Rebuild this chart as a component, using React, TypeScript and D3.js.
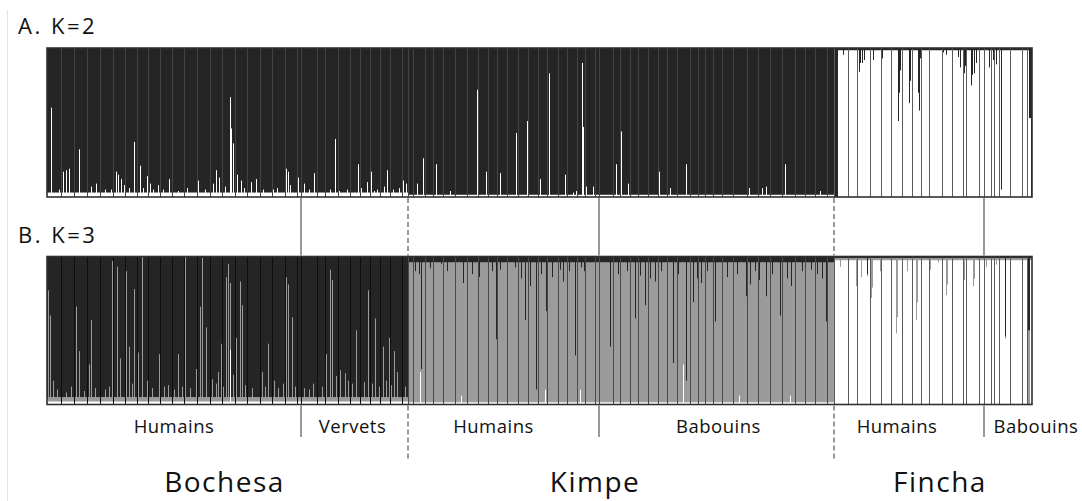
import React from "react";
import * as d3 from "d3";

// ---------- data ----------
const sites = ["Bochesa", "Kimpe", "Fincha"];
const groupLabels = ["Humains", "Vervets", "Humains", "Babouins", "Humains", "Babouins"];
const groupSizes = [254, 107, 191, 235, 150, 48];
const groupSite = [0, 0, 1, 1, 2, 2];
const panelTitles = ["A. K=2", "B. K=3"];

// sampling-site separators (individual index where a new sample block starts)
const separators = [
  14, 27, 40, 53, 66, 78, 90, 101, 113, 125, 137, 150, 163, 175, 188, 200, 213, 225, 238, 250, 254,
  270, 278, 291, 303, 313, 323, 333, 343, 355, 361,
  366, 378, 386, 396, 408, 420, 431, 441, 450, 460, 471, 481, 491, 500, 511, 520, 530, 538, 548, 552,
  566, 573, 583, 591, 601, 611, 620, 630, 643, 651, 658, 666, 675, 686, 700, 711, 723, 735, 748, 758, 768, 780, 787,
  801, 810, 823, 834, 844, 855, 865, 874, 882, 895, 905, 916, 919, 932, 937,
  944, 947, 952, 963, 975, 980,
];

// K=2 : components [light, dark]
const k2Base = [
  [0.03, 0.97], [0.03, 0.97], [0.015, 0.985], [0.015, 0.985], [0.985, 0.015], [0.985, 0.015],
];
const k2Major = [1, 1, 1, 1, 0, 0];
const k2LightSpikes: [number, number][] = [
  [4, 0.6], [12, 0.05], [16, 0.17], [19, 0.18], [22, 0.19], [27, 0.04], [32, 0.32], [44, 0.07], [49, 0.09],
  [58, 0.05], [64, 0.05], [69, 0.17], [71, 0.15], [74, 0.12], [77, 0.08], [82, 0.06], [87, 0.37], [93, 0.21],
  [96, 0.06], [100, 0.14], [103, 0.09], [106, 0.05], [111, 0.08], [116, 0.05], [122, 0.12], [131, 0.04],
  [140, 0.06], [151, 0.11], [158, 0.05], [166, 0.09], [169, 0.18], [172, 0.13], [175, 0.2], [178, 0.07],
  [183, 0.67], [184, 0.46], [186, 0.36], [190, 0.15], [194, 0.11], [197, 0.06], [204, 0.1], [209, 0.12],
  [216, 0.05], [226, 0.05], [230, 0.06], [239, 0.19], [241, 0.17], [243, 0.08], [251, 0.13], [257, 0.09],
  [262, 0.05], [267, 0.16], [283, 0.05], [288, 0.39], [292, 0.04], [300, 0.05], [311, 0.22], [314, 0.06],
  [320, 0.1], [324, 0.17], [327, 0.04], [330, 0.05], [337, 0.07], [340, 0.18], [343, 0.04], [346, 0.05],
  [352, 0.06], [356, 0.11], [359, 0.09], [370, 0.09], [376, 0.26], [389, 0.22], [403, 0.04], [430, 0.72],
  [439, 0.17], [453, 0.16], [469, 0.43], [480, 0.51], [493, 0.12], [502, 0.83], [518, 0.15], [526, 0.03],
  [529, 0.04], [535, 0.9], [536, 0.47], [539, 0.07], [546, 0.07], [552, 0.04], [569, 0.22], [574, 0.44],
  [581, 0.09], [612, 0.17], [623, 0.06], [639, 0.22], [702, 0.06], [715, 0.06], [719, 0.07], [738, 0.22],
  [773, 0.04],
];
const k2DarkSpikes: [number, number][] = [
  [787, 1], [788, 1], [789, 1], [790, 1], [796, 0.045], [812, 0.16], [813, 0.1], [815, 0.1], [817, 0.08],
  [826, 0.08], [835, 0.07], [851, 0.49], [852, 0.3], [853, 0.15], [862, 0.37], [863, 0.22], [871, 0.3],
  [872, 0.42], [873, 0.07], [896, 0.03], [899, 0.045], [911, 0.06], [913, 0.13], [917, 0.17], [918, 0.12],
  [924, 0.25], [925, 0.18], [927, 0.17], [929, 0.1], [942, 0.13], [946, 0.08], [949, 0.11], [954, 0.95],
  [982, 0.47], [983, 0.47], [984, 1],
];

// K=3 : components [light, grey, dark]
const k3Base = [
  [0.02, 0.03, 0.95], [0.02, 0.03, 0.95], [0.015, 0.945, 0.04], [0.015, 0.945, 0.04],
  [0.975, 0.015, 0.01], [0.975, 0.015, 0.01],
];
const k3Major = [2, 2, 1, 1, 0, 0];
const k3GreySpikes: [number, number][] = [
  [1, 0.75], [3, 0.58], [6, 0.14], [10, 0.08], [14, 0.15], [19, 0.06], [24, 0.1], [29, 0.64], [32, 0.34],
  [37, 0.07], [42, 0.25], [44, 0.55], [48, 0.09], [53, 0.12], [58, 0.08], [62, 0.1], [65, 0.95], [70, 0.91],
  [73, 0.29], [79, 0.88], [82, 0.37], [85, 0.12], [87, 0.76], [91, 0.33], [95, 0.98], [100, 0.14],
  [105, 0.09], [112, 0.32], [117, 0.1], [121, 0.11], [127, 0.08], [131, 0.32], [135, 0.1], [138, 0.99],
  [143, 0.09], [149, 0.22], [153, 0.64], [155, 0.97], [159, 0.5], [163, 0.94], [165, 0.15], [169, 0.12],
  [171, 0.2], [174, 0.39], [176, 0.1], [179, 0.84], [181, 0.93], [183, 0.45], [186, 0.18], [189, 0.43],
  [193, 0.81], [195, 0.65], [198, 0.11], [200, 0.14], [205, 0.09], [213, 0.74], [215, 0.2], [218, 0.1],
  [221, 0.39], [227, 0.14], [231, 0.09], [236, 0.12], [239, 0.84], [241, 0.79], [245, 0.57], [248, 0.1],
  [250, 0.15], [257, 0.09], [262, 0.08], [266, 0.12], [270, 0.11], [275, 0.1], [279, 0.32], [283, 0.89],
  [285, 0.82], [289, 0.17], [293, 0.21], [298, 0.19], [301, 0.14], [305, 0.12], [309, 0.48], [313, 0.16],
  [317, 0.13], [321, 0.75], [325, 0.12], [328, 0.56], [332, 0.1], [336, 0.37], [339, 0.14], [342, 0.43],
  [344, 0.11], [347, 0.34], [350, 0.2], [355, 0.09], [358, 0.1],
  [793, 0.06], [809, 0.19], [810, 0.12], [814, 0.13], [824, 0.27], [825, 0.2], [833, 0.09], [849, 0.51],
  [850, 0.4], [860, 0.09], [869, 0.42], [870, 0.3], [883, 0.08], [891, 0.03], [899, 0.25], [900, 0.18],
  [916, 0.2], [917, 0.15], [919, 0.16], [926, 0.19], [927, 0.14], [939, 0.06], [944, 0.09], [949, 0.045],
  [981, 0.5], [982, 0.5],
];
const k3LightSpikes: [number, number][] = [
  [183, 0.37], [373, 0.22], [386, 0.05], [414, 0.06], [498, 0.1], [533, 0.1], [566, 0.35], [636, 0.27],
  [692, 0.06], [743, 0.06], [758, 0.07],
];
const k3DarkSpikes: [number, number][] = [
  [368, 0.1], [372, 0.12], [374, 0.76], [378, 0.75], [383, 0.08], [386, 0.09], [394, 0.05], [400, 0.1],
  [408, 0.07], [416, 0.18], [425, 0.12], [432, 0.14], [441, 0.06], [445, 0.1], [449, 0.56], [453, 0.09],
  [460, 0.12], [468, 0.075], [474, 0.15], [478, 0.43], [483, 0.2], [489, 0.9], [494, 0.12], [499, 0.37],
  [505, 0.14], [513, 0.09], [516, 0.17], [522, 0.1], [528, 0.67], [534, 0.075], [537, 0.1], [543, 0.04],
  [548, 0.08], [563, 0.61], [566, 0.09], [571, 0.12], [580, 0.1], [588, 0.42], [593, 0.13], [598, 0.33],
  [603, 0.15], [608, 0.17], [614, 0.1], [619, 0.04], [626, 0.72], [631, 0.12], [639, 0.84], [646, 0.31],
  [650, 0.15], [654, 0.18], [660, 0.1], [668, 0.44], [675, 0.1], [680, 0.14], [690, 0.12], [699, 0.27],
  [703, 0.19], [708, 0.1], [712, 0.16], [719, 0.27], [725, 0.12], [733, 0.4], [740, 0.15], [744, 0.2],
  [748, 0.11], [755, 0.1], [764, 0.09], [770, 0.12], [775, 0.15], [779, 0.44],
  [820, 0.12], [958, 0.54], [981, 0.5], [982, 0.5],
];

// ---------- helpers ----------
type Ind = { g: number; q: number[] };

function buildMembership(
  base: number[][],
  major: number[],
  spikes: { comp: number; list: [number, number][] }[]
): Ind[] {
  const out: Ind[] = [];
  groupSizes.forEach((n, gi) => {
    for (let k = 0; k < n; k++) out.push({ g: gi, q: base[gi].slice() });
  });
  spikes.forEach(({ comp, list }) => {
    list.forEach(([i, v]) => {
      if (out[i]) out[i].q[comp] = v;
    });
  });
  out.forEach((d) => {
    const m = major[d.g];
    let s = 0;
    d.q.forEach((v, c) => {
      if (c !== m) s += v;
    });
    d.q[m] = Math.max(0, 1 - s);
  });
  return out;
}

const W = 1082;
const H = 501;
const N = d3.sum(groupSizes);
const x = d3.scaleLinear().domain([0, N]).range([47, 1032]);

const COLORS_K2 = ["#ffffff", "#252525"];
const COLORS_K3 = ["#ffffff", "#9b9b9b", "#252525"];

const groupStarts = groupSizes.map((_, i) => d3.sum(groupSizes.slice(0, i)));
const boundaries = groupStarts.slice(1).map((b, i) => ({
  idx: b,
  dashed: groupSite[i] !== groupSite[i + 1],
}));

function Panel({
  data,
  colors,
  top,
  bottom,
  major,
  darkSep,
}: {
  data: Ind[];
  colors: string[];
  top: number;
  bottom: number;
  major: number[];
  darkSep: string;
}) {
  const y = d3.scaleLinear().domain([0, 1]).range([bottom, top]);
  const rects: React.ReactNode[] = [];
  data.forEach((d, i) => {
    let acc = 0;
    d.q.forEach((v, c) => {
      if (v <= 0) return;
      const y0 = y(acc);
      const y1 = y(Math.min(1, acc + v));
      acc += v;
      rects.push(
        <rect key={`${i}-${c}`} x={x(i)} y={y1} width={x(i + 1) - x(i)} height={Math.max(0, y0 - y1)} fill={colors[c]} />
      );
    });
  });
  const sepColor = (idx: number) => {
    const g = data[Math.min(idx, data.length - 1)].g;
    const m = major[g];
    if (m === colors.length - 1) return darkSep;
    if (m === 0) return "#5c5c5c";
    return "#4a4a4a";
  };
  return (
    <g>
      {rects}
      {separators.map((s, i) => (
        <rect key={`s${i}`} x={x(s)} y={top} width={1} height={bottom - top} fill={sepColor(s)} />
      ))}
      <rect x={x(0)} y={top} width={x(N) - x(0)} height={bottom - top} fill="none" stroke="#303030" strokeWidth={1.6} />
    </g>
  );
}

export default function App() {
  const k2 = buildMembership(k2Base, k2Major, [
    { comp: 0, list: k2LightSpikes },
    { comp: 1, list: k2DarkSpikes },
  ]);
  const k3 = buildMembership(k3Base, k3Major, [
    { comp: 0, list: k3LightSpikes },
    { comp: 1, list: k3GreySpikes },
    { comp: 2, list: k3DarkSpikes },
  ]);

  const aTop = 48, aBot = 197, bTop = 256.5, bBot = 404.5;
  const labelDx = [0, -2, -10, 2, -12, 28];
  const siteDx = [-3, -26, 7];

  return (
    <svg
      width={W}
      height={H}
      style={{ position: "absolute", left: 0, top: 0, background: "#fff" }}
      fontFamily="'Open Sans', sans-serif"
    >
      <rect x={0} y={0} width={W} height={H} fill="#fff" />
      <line x1={7.5} y1={10} x2={7.5} y2={H} stroke="#e4e4e4" strokeWidth={1} />

      <text x={18} y={34} fontSize={22} letterSpacing={2.5} fill="#111">{panelTitles[0]}</text>
      <text x={18} y={243} fontSize={22} letterSpacing={2.5} fill="#111">{panelTitles[1]}</text>

      <Panel data={k2} colors={COLORS_K2} top={aTop} bottom={aBot} major={k2Major} darkSep="#444444" />
      <Panel data={k3} colors={COLORS_K3} top={bTop} bottom={bBot} major={k3Major} darkSep="#0e0e0e" />

      {boundaries.map((b, i) => (
        <g key={`b${i}`} stroke="#555" strokeWidth={1.2} strokeDasharray={b.dashed ? "5,3" : undefined}>
          <line x1={x(b.idx)} x2={x(b.idx)} y1={aBot + 1} y2={bTop - 1} />
          <line x1={x(b.idx)} x2={x(b.idx)} y1={bBot + 1} y2={b.dashed ? 461 : 437} />
        </g>
      ))}

      {groupLabels.map((l, i) => {
        const cx = (x(groupStarts[i]) + x(groupStarts[i] + groupSizes[i])) / 2 + labelDx[i];
        return (
          <text key={`g${i}`} x={cx} y={433} fontSize={18.5} letterSpacing={0.5} textAnchor="middle" fill="#111">
            {l}
          </text>
        );
      })}

      {sites.map((s, si) => {
        const gs = groupSite.map((v, i) => (v === si ? i : -1)).filter((i) => i >= 0);
        const a = x(groupStarts[gs[0]]);
        const last = gs[gs.length - 1];
        const b = x(groupStarts[last] + groupSizes[last]);
        return (
          <text key={`site${si}`} x={(a + b) / 2 + siteDx[si]} y={492} fontSize={28} letterSpacing={1.5} textAnchor="middle" fill="#111">
            {s}
          </text>
        );
      })}
    </svg>
  );
}
